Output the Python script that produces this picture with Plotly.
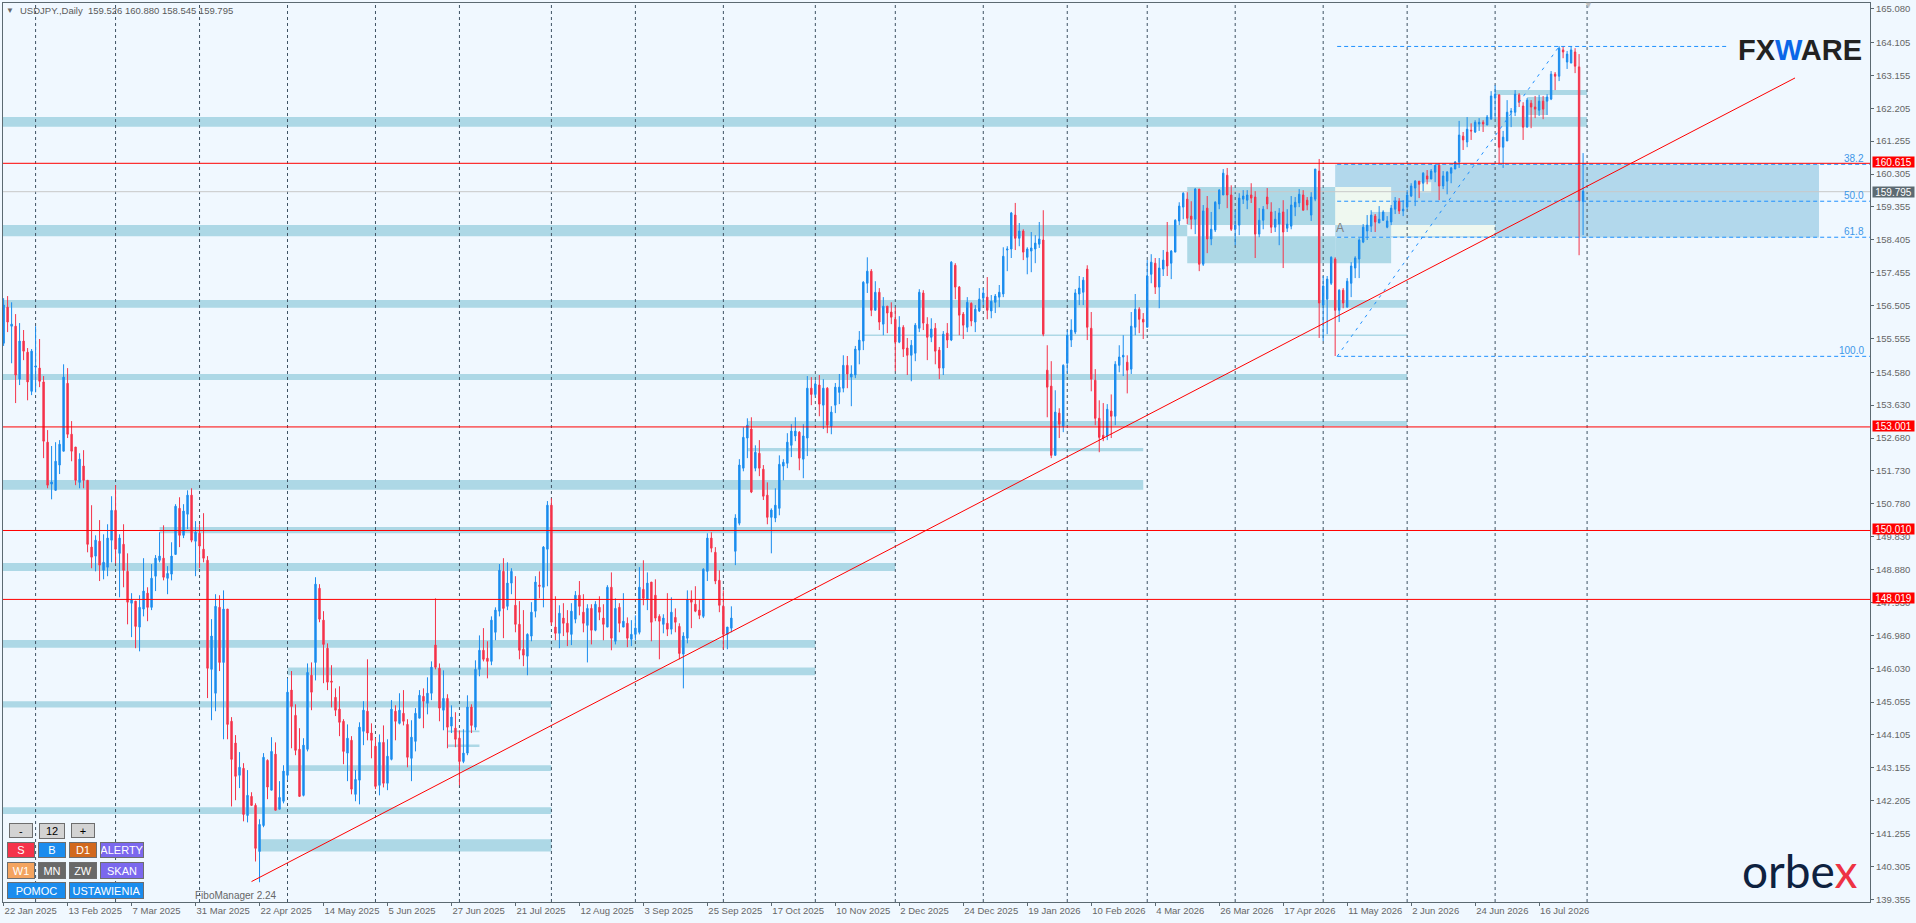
import plotly.graph_objects as go

# USDJPY daily candles, oldest first
highs = [
    156.72, 156.78, 156.60, 156.26, 156.00, 155.80, 155.28, 155.25, 155.91, 155.54,
    154.47, 152.91, 152.45, 152.56, 152.62, 154.81, 154.70, 153.17, 152.42, 152.24,
    152.33, 151.46, 150.74, 149.87, 150.31, 149.90, 150.19, 151.00, 151.32, 149.90,
    150.19, 149.35, 148.20, 147.97, 148.14, 149.21, 148.37, 149.04, 149.30, 149.96,
    150.16, 148.98, 149.67, 150.77, 150.97, 150.77, 151.17, 151.23, 150.28, 150.19,
    150.51, 149.27, 147.45, 148.17, 148.14, 148.28, 147.74, 144.62, 144.10, 143.61,
    143.29, 143.09, 142.45, 142.13, 141.67, 143.58, 143.40, 144.04, 143.89, 142.77,
    143.23, 145.74, 145.95, 144.99, 144.30, 144.01, 146.17, 146.20, 148.66, 148.46,
    147.68, 146.75, 146.12, 145.45, 145.51, 144.56, 144.41, 144.07, 143.09, 144.47,
    145.08, 146.29, 144.44, 144.01, 144.12, 144.38, 143.98, 145.11, 144.96, 145.31,
    145.40, 144.56, 144.53, 144.88, 145.40, 145.45, 145.77, 146.23, 148.05, 146.17,
    145.97, 145.28, 144.96, 144.76, 144.24, 144.27, 145.25, 144.99, 146.26, 146.98,
    147.19, 146.81, 147.53, 147.79, 149.04, 149.21, 149.09, 148.92, 148.69, 147.97,
    147.71, 147.04, 147.94, 148.69, 148.83, 149.56, 150.86, 150.94, 148.11, 147.85,
    147.91, 147.71, 147.91, 148.26, 148.55, 148.17, 147.88, 147.88, 147.97, 148.11,
    147.88, 148.43, 148.80, 148.05, 147.91, 148.20, 147.50, 147.42, 147.56, 148.95,
    149.15, 148.80, 148.52, 148.60, 147.59, 147.59, 148.20, 148.08, 147.76, 147.33,
    147.07, 148.28, 148.28, 148.40, 148.00, 148.92, 149.93, 149.96, 149.53, 148.86,
    148.28, 147.22, 147.82, 150.48, 152.07, 152.99, 153.25, 153.28, 152.47, 152.62,
    151.90, 151.40, 150.65, 151.23, 152.18, 152.07, 152.82, 153.08, 153.28, 152.88,
    153.08, 154.47, 154.44, 154.35, 154.50, 154.38, 154.15, 153.60, 154.27, 154.53,
    155.07, 155.05, 154.78, 155.34, 155.77, 157.21, 157.90, 157.56, 157.21, 157.01,
    156.75, 156.49, 156.60, 156.46, 156.20, 155.94, 155.57, 155.51, 156.00, 156.98,
    156.95, 156.17, 156.14, 156.00, 155.31, 155.77, 156.00, 157.79, 157.73, 157.07,
    156.32, 156.75, 156.60, 156.52, 157.01, 157.01, 157.33, 156.81, 156.84, 157.10,
    158.19, 158.22, 159.21, 159.47, 158.89, 158.71, 158.19, 158.63, 158.54, 158.92,
    159.26, 155.36, 154.90, 154.06, 153.54, 154.81, 155.80, 156.11, 156.98, 157.36,
    157.33, 157.67, 156.32, 154.67, 153.77, 153.69, 153.66, 153.94, 154.90, 155.36,
    155.65, 155.07, 156.32, 156.84, 156.46, 156.29, 157.82, 157.99, 157.88, 157.88,
    158.11, 158.92, 158.11, 159.00, 159.49, 159.78, 159.78, 159.52, 159.90, 159.87,
    159.41, 159.67, 159.21, 159.52, 159.87, 160.45, 160.48, 159.98, 159.26, 159.75,
    159.84, 159.84, 160.04, 159.81, 159.32, 159.38, 159.90, 159.49, 159.24, 159.32,
    159.55, 159.29, 159.67, 159.64, 159.87, 159.84, 159.64, 159.78, 160.45, 160.74,
    157.36, 157.36, 157.93, 157.90, 156.98, 157.01, 157.30, 157.76, 157.93, 158.45,
    158.86, 159.12, 159.26, 159.15, 159.38, 159.26, 159.09, 159.41, 159.64, 159.61,
    159.55, 159.84, 160.04, 160.13, 160.10, 160.36, 160.42, 160.45, 160.56, 160.62,
    160.39, 160.39, 160.51, 160.68, 161.84, 161.52, 161.95, 161.77, 161.86, 161.92,
    161.86, 162.01, 162.70, 162.87, 162.61, 161.55, 162.44, 162.21, 162.73, 162.64,
    162.38, 162.50, 162.44, 162.56, 162.59, 162.56, 162.61, 163.28, 163.25, 164.00,
    164.00, 163.86, 164.00, 163.94, 163.77, 160.91,
]
body_tops = [
    156.52, 156.46, 155.97, 155.91, 155.48, 155.48, 155.16, 155.19, 154.76, 154.70,
    154.30, 152.56, 151.41, 152.01, 152.50, 154.44, 154.26, 152.79, 152.42, 152.07,
    151.87, 151.46, 149.53, 149.73, 149.70, 149.09, 149.79, 150.59, 150.59, 149.79,
    149.61, 148.83, 148.00, 147.97, 147.79, 148.26, 148.20, 148.63, 149.21, 149.27,
    149.21, 148.77, 149.27, 150.71, 150.65, 150.57, 151.03, 151.03, 149.96, 149.93,
    149.47, 149.15, 146.96, 147.82, 147.79, 147.74, 147.74, 144.50, 143.87, 143.17,
    143.14, 142.36, 142.33, 142.07, 141.52, 143.46, 143.37, 143.63, 143.55, 142.30,
    143.06, 145.34, 145.40, 144.67, 143.69, 143.81, 145.91, 145.83, 148.46, 148.34,
    147.42, 146.61, 145.66, 145.19, 144.85, 144.50, 144.01, 143.95, 142.82, 144.33,
    144.82, 144.79, 144.16, 143.78, 143.89, 143.89, 143.49, 144.85, 144.79, 144.82,
    144.73, 144.41, 144.04, 144.73, 145.25, 145.22, 145.31, 146.06, 146.70, 146.03,
    145.16, 145.16, 144.62, 144.30, 144.01, 143.58, 144.91, 144.91, 146.00, 146.55,
    146.55, 146.32, 147.42, 147.71, 148.86, 148.83, 148.49, 148.83, 147.85, 147.30,
    146.58, 147.01, 147.65, 148.52, 148.43, 149.53, 150.74, 150.74, 147.22, 147.62,
    147.48, 147.33, 147.68, 148.14, 148.14, 147.65, 147.76, 147.76, 147.88, 147.79,
    147.48, 148.37, 148.37, 147.76, 147.79, 147.39, 147.33, 147.01, 147.19, 148.37,
    148.31, 148.49, 148.52, 148.14, 147.53, 147.48, 147.33, 147.65, 147.50, 147.24,
    146.96, 148.02, 148.02, 147.88, 147.71, 148.89, 149.79, 149.79, 149.38, 148.57,
    147.82, 147.22, 147.48, 150.37, 151.90, 152.70, 153.05, 152.94, 152.27, 152.24,
    151.78, 151.03, 150.60, 150.74, 151.92, 151.98, 152.56, 152.88, 152.88, 152.85,
    152.74, 154.12, 154.12, 154.24, 154.21, 154.12, 154.12, 153.43, 154.15, 154.15,
    154.78, 154.78, 154.53, 155.25, 155.51, 157.18, 157.50, 157.50, 156.89, 156.89,
    156.49, 156.49, 156.32, 156.11, 155.88, 155.88, 155.28, 155.36, 155.94, 156.89,
    156.87, 155.97, 155.83, 155.85, 155.22, 155.68, 155.71, 157.76, 157.67, 157.04,
    156.26, 156.60, 156.57, 156.40, 156.69, 156.87, 156.75, 156.63, 156.78, 156.89,
    157.93, 158.14, 159.18, 159.12, 158.66, 158.66, 158.14, 158.17, 158.31, 158.43,
    158.40, 154.64, 154.18, 153.43, 153.40, 154.78, 155.65, 155.80, 156.87, 157.01,
    157.24, 157.56, 155.85, 154.35, 153.25, 152.76, 153.51, 153.46, 154.81, 155.02,
    155.07, 154.87, 155.91, 156.40, 156.40, 156.11, 157.36, 157.76, 157.73, 157.59,
    157.82, 158.05, 158.08, 158.97, 159.38, 159.75, 159.58, 159.09, 159.87, 159.87,
    159.24, 159.32, 158.71, 159.49, 159.84, 160.33, 160.27, 159.70, 158.83, 159.61,
    159.67, 159.70, 159.70, 159.64, 158.97, 159.29, 159.64, 159.21, 159.00, 159.18,
    159.21, 158.86, 159.41, 159.49, 159.72, 159.70, 159.55, 159.64, 160.45, 160.39,
    157.07, 157.27, 157.90, 157.85, 156.95, 156.95, 157.21, 157.65, 157.88, 158.40,
    158.77, 158.83, 159.12, 159.09, 159.00, 159.21, 158.95, 159.32, 159.52, 159.52,
    159.29, 159.70, 159.96, 160.10, 160.10, 160.33, 160.25, 160.39, 160.56, 160.56,
    160.25, 160.36, 160.48, 160.65, 161.43, 161.40, 161.60, 161.57, 161.80, 161.80,
    161.80, 161.95, 162.56, 162.61, 162.59, 161.37, 162.09, 162.12, 162.61, 162.59,
    162.27, 162.44, 162.35, 162.24, 162.41, 162.41, 162.53, 163.19, 163.19, 163.94,
    163.89, 163.77, 163.89, 163.83, 163.40, 159.81,
]
body_bottoms = [
    155.42, 156.03, 155.91, 154.50, 154.38, 155.19, 154.30, 154.03, 154.73, 154.32,
    152.59, 151.32, 151.35, 151.17, 151.90, 152.30, 152.79, 152.30, 151.46, 151.40,
    151.46, 149.61, 149.24, 149.27, 149.01, 148.86, 148.95, 149.73, 149.47, 149.35,
    148.86, 147.94, 147.91, 147.24, 147.22, 147.74, 147.79, 147.79, 148.69, 149.15,
    148.66, 148.63, 148.75, 149.32, 149.87, 149.87, 150.48, 149.73, 149.70, 149.56,
    149.21, 146.03, 146.00, 145.31, 146.20, 146.20, 144.41, 143.40, 142.91, 142.94,
    141.81, 141.78, 142.07, 140.83, 140.74, 141.49, 142.60, 142.51, 141.93, 141.96,
    142.19, 142.94, 144.93, 143.66, 142.33, 142.36, 143.69, 145.34, 146.20, 147.45,
    146.72, 145.63, 145.63, 144.82, 144.47, 143.63, 143.58, 142.54, 142.39, 142.80,
    144.21, 144.16, 143.95, 142.62, 142.65, 142.71, 142.71, 143.40, 144.50, 144.44,
    144.50, 143.46, 143.43, 143.92, 144.59, 145.08, 145.02, 145.31, 146.06, 144.88,
    144.82, 144.33, 144.36, 143.98, 143.34, 143.34, 143.58, 144.38, 144.33, 146.00,
    146.29, 146.23, 146.23, 147.07, 147.68, 147.76, 147.82, 148.49, 147.30, 146.55,
    146.41, 146.38, 146.96, 147.68, 148.40, 148.37, 149.47, 147.36, 147.04, 147.04,
    147.33, 147.07, 147.01, 147.45, 147.82, 147.33, 147.27, 147.13, 147.13, 147.65,
    147.30, 147.22, 146.90, 146.81, 147.33, 147.22, 146.90, 146.87, 147.01, 147.07,
    148.05, 148.02, 147.36, 147.48, 147.39, 147.30, 147.16, 147.16, 147.36, 146.46,
    146.44, 146.90, 147.94, 147.68, 147.56, 147.53, 148.83, 149.50, 148.55, 147.85,
    147.01, 147.01, 147.19, 149.41, 150.22, 151.81, 152.68, 151.12, 151.81, 151.81,
    151.00, 150.39, 150.39, 150.37, 150.65, 151.87, 151.95, 152.47, 152.74, 152.10,
    152.07, 152.68, 153.94, 153.94, 153.66, 153.63, 153.05, 153.02, 153.63, 154.00,
    154.12, 154.53, 154.44, 154.50, 155.22, 155.48, 157.15, 156.37, 156.37, 156.03,
    155.97, 156.29, 156.17, 155.45, 155.45, 155.25, 155.07, 155.07, 155.13, 155.85,
    156.00, 155.59, 155.59, 155.19, 154.70, 154.70, 155.51, 155.51, 157.04, 156.23,
    155.94, 155.88, 156.06, 156.03, 156.35, 156.72, 156.37, 156.35, 156.60, 156.75,
    156.84, 158.11, 158.14, 158.45, 158.45, 158.05, 157.90, 158.08, 158.14, 158.28,
    155.68, 154.15, 152.18, 152.18, 153.08, 153.02, 154.84, 155.51, 155.74, 156.84,
    156.89, 155.88, 154.38, 153.25, 152.70, 152.68, 152.74, 153.31, 153.31, 154.78,
    155.02, 154.64, 154.67, 155.88, 156.11, 156.03, 155.88, 157.41, 157.04, 157.04,
    157.56, 157.65, 157.73, 158.05, 158.95, 159.35, 159.03, 159.00, 159.00, 157.70,
    157.70, 158.43, 158.43, 158.69, 159.44, 159.70, 159.70, 158.71, 158.71, 158.83,
    159.58, 159.55, 159.61, 158.57, 158.57, 158.97, 159.44, 158.77, 158.77, 158.86,
    158.63, 158.74, 158.80, 159.35, 159.47, 159.26, 159.41, 159.12, 159.58, 156.58,
    156.52, 156.69, 157.15, 156.37, 156.37, 156.58, 156.46, 157.15, 157.59, 157.85,
    158.34, 158.66, 158.80, 158.92, 158.89, 158.97, 158.77, 158.92, 159.29, 159.24,
    159.24, 159.35, 159.67, 159.90, 160.01, 160.04, 160.16, 160.16, 160.36, 159.96,
    159.96, 160.10, 160.33, 160.45, 160.65, 161.29, 161.23, 161.55, 161.52, 161.75,
    161.75, 161.72, 161.89, 162.50, 161.08, 161.08, 161.26, 162.09, 162.09, 162.38,
    161.66, 161.66, 162.24, 162.18, 162.15, 162.18, 162.41, 162.47, 163.13, 163.13,
    163.83, 163.54, 163.51, 163.42, 159.52, 159.52,
]
lows = [
    155.34, 155.74, 154.84, 153.69, 154.21, 154.93, 153.77, 153.92, 154.00, 154.15,
    152.10, 151.23, 150.91, 151.17, 151.64, 152.30, 152.68, 152.01, 151.32, 151.23,
    151.23, 149.38, 148.92, 148.83, 148.55, 148.60, 148.69, 149.09, 149.06, 148.08,
    148.37, 147.30, 146.93, 146.61, 146.52, 147.53, 147.39, 147.71, 148.26, 149.09,
    148.57, 148.17, 148.57, 149.32, 149.53, 149.79, 150.05, 149.67, 148.69, 148.92,
    149.09, 145.17, 144.53, 144.79, 145.95, 143.98, 143.98, 142.04, 142.22, 142.57,
    141.61, 141.58, 142.07, 140.45, 139.85, 141.44, 142.25, 142.51, 141.93, 141.96,
    142.13, 142.80, 143.72, 143.52, 142.33, 142.33, 143.63, 144.82, 145.68, 147.36,
    145.60, 145.40, 144.90, 144.65, 144.07, 143.26, 142.77, 142.39, 142.19, 142.10,
    143.81, 143.95, 143.43, 142.54, 142.36, 142.59, 142.51, 143.37, 143.95, 144.41,
    144.38, 143.17, 142.77, 143.63, 144.59, 144.30, 144.70, 145.11, 146.00, 144.50,
    144.24, 143.72, 144.16, 143.75, 142.65, 143.29, 143.52, 144.16, 144.24, 145.80,
    146.23, 145.74, 146.12, 146.84, 147.53, 146.90, 147.71, 148.17, 147.07, 146.29,
    146.09, 145.83, 146.81, 147.50, 148.05, 147.79, 148.40, 147.27, 146.84, 146.61,
    146.96, 146.67, 146.70, 147.33, 147.56, 147.07, 146.20, 146.72, 147.10, 147.42,
    146.84, 147.22, 146.55, 146.72, 147.07, 147.22, 146.64, 146.67, 146.84, 147.01,
    147.85, 147.71, 146.81, 147.39, 146.29, 147.04, 146.96, 147.01, 147.07, 146.29,
    145.45, 146.75, 147.19, 147.65, 147.45, 147.48, 148.55, 149.38, 148.46, 147.65,
    146.58, 146.58, 147.07, 149.01, 150.16, 151.72, 152.10, 151.09, 151.72, 151.58,
    150.89, 150.19, 149.35, 150.25, 150.45, 151.46, 151.81, 152.13, 152.59, 151.75,
    151.52, 152.16, 153.63, 153.89, 153.31, 152.94, 152.82, 152.79, 153.40, 153.66,
    154.00, 154.12, 153.60, 154.41, 154.81, 155.22, 156.87, 156.20, 156.37, 155.80,
    155.65, 155.71, 155.97, 154.61, 155.42, 155.02, 154.50, 154.32, 154.90, 155.74,
    155.80, 154.93, 155.45, 154.81, 154.38, 154.50, 155.28, 155.48, 156.69, 155.65,
    155.54, 155.74, 155.91, 155.74, 156.32, 156.52, 156.11, 156.14, 156.29, 156.46,
    156.75, 157.50, 157.88, 158.11, 158.22, 157.82, 157.41, 157.47, 157.73, 158.17,
    155.62, 153.28, 152.10, 152.18, 152.68, 152.85, 154.55, 155.31, 155.68, 156.52,
    156.52, 155.51, 154.03, 153.05, 152.27, 152.59, 152.62, 152.68, 153.05, 154.58,
    154.47, 153.97, 154.53, 155.65, 155.71, 155.54, 155.88, 157.15, 156.84, 156.43,
    157.36, 157.36, 157.27, 158.05, 158.83, 159.00, 158.86, 158.71, 158.57, 157.50,
    157.65, 158.02, 158.25, 158.63, 159.29, 159.70, 159.32, 158.66, 158.25, 158.54,
    159.44, 159.29, 159.47, 157.88, 158.48, 158.71, 159.29, 158.60, 158.63, 158.25,
    157.59, 158.63, 158.71, 159.09, 159.35, 159.26, 159.26, 158.95, 159.52, 155.57,
    155.48, 155.68, 157.10, 155.05, 156.03, 156.43, 156.46, 156.75, 157.30, 157.30,
    158.31, 158.40, 158.63, 158.63, 158.89, 158.95, 158.74, 158.83, 159.15, 159.15,
    159.09, 159.29, 159.64, 159.38, 159.61, 159.81, 160.01, 160.16, 160.07, 159.55,
    159.87, 159.72, 160.04, 160.45, 160.48, 161.00, 161.08, 161.29, 161.49, 161.55,
    161.52, 161.72, 161.89, 161.89, 160.62, 160.48, 161.26, 161.66, 161.98, 162.24,
    161.29, 161.66, 161.63, 161.92, 161.98, 161.89, 162.01, 162.44, 162.73, 162.99,
    163.65, 163.34, 163.51, 163.22, 157.96, 158.54,
]
# U = blue up candle, D = red down candle
directions = (
    "UDUDUDDUUD" "DDUUUUDDDU" "DDDUDUUUDU" "DDUDUUDUUU" "DUUUDUUDUD"
    "DDUUDUDDDU" "DUDDUUDUDU" "UUDDDUUDUD" "DDDDDDUDUU" "UDDDUDUUDU"
    "DDUUUDUUDD" "UDUDDUUDUU" "DDUUUDUUDD" "DUUUDUUDDU" "DDUUDDUDUD"
    "DUDUDUDUUU" "DUDDDUDUDD" "UUDDDUUDDD" "DUUUUUUDUD" "DDUUUUUUUD"
    "UUDUDUDUUU" "UDUUUUUDUD" "UDDDUDDUUU" "DDUDDUDUDD" "DUDUUUDUUU"
    "UUUDUDUUUU" "DDDUDUUUUU" "UDDDDDUDUU" "UDUUDDUUDU" "UDUUUUDDUD"
    "UDUUUUDDUU" "UUDDUUDDUU" "DUUUUDDUUD" "UUUDUDUUUU" "UUUDUUUUUD"
    "UUUUDUDUUD" "UUUUUDUDUU" "DUUUDUUUUD" "DUDDUDUUDU" "DUUDDU"
)

# axes
date_labels = [
    "22 Jan 2025", "13 Feb 2025", "7 Mar 2025", "31 Mar 2025", "22 Apr 2025",
    "14 May 2025", "5 Jun 2025", "27 Jun 2025", "21 Jul 2025", "12 Aug 2025",
    "3 Sep 2025", "25 Sep 2025", "17 Oct 2025", "10 Nov 2025", "2 Dec 2025",
    "24 Dec 2025", "19 Jan 2026", "10 Feb 2026", "4 Mar 2026", "26 Mar 2026",
    "17 Apr 2026", "11 May 2026", "2 Jun 2026", "24 Jun 2026", "16 Jul 2026",
]
date_ticks = [16 * n for n in range(len(date_labels))]
month_starts = [8, 28, 49, 71, 93, 114, 137, 158, 180, 203, 223, 245, 266, 286, 308, 330, 351, 373, 396]
price_ticks = [
    165.080, 164.105, 163.155, 162.205, 161.255, 160.305, 159.355, 158.405, 157.455, 156.505,
    155.555, 154.580, 153.630, 152.680, 151.730, 150.780, 149.830, 148.880, 147.930, 146.980,
    146.030, 145.055, 144.105, 143.155, 142.205, 141.255, 140.305, 139.355,
]

# support / resistance zones
band_start = [-1, -1, -1, -1, 186, -1, 39, -1, -1, 71, -1, 71, -1, 64, 373, 381, 215, 186, 111, 111]
band_end = [396, 296, 351, 351, 351, 285, 223, 223, 203, 203, 137, 137, 137, 137, 396, 386, 351, 285, 119, 119]
band_low = [161.67, 158.51, 156.44, 154.36, 153.03, 151.19, 149.93, 148.84, 146.62, 145.83, 144.90,
            143.06, 141.82, 140.74, 162.59, 162.01, 155.63, 152.30, 144.18, 143.76]
band_high = [161.95, 158.83, 156.67, 154.53, 153.17, 151.47, 150.11, 149.07, 146.85, 146.05, 145.08,
             143.23, 142.02, 141.09, 162.73, 162.53, 155.67, 152.39, 144.23, 143.83]

# the box around the fibo area where the rectangles overlap
box_start = [296, 296, 333, 333, 347, 354, 342]
box_end = [333, 333, 347, 347, 373, 357, 347]
box_low = [158.83, 157.73, 158.83, 157.73, 158.51, 159.78, 158.83]
box_high = [159.93, 158.51, 159.93, 158.47, 158.83, 160.07, 159.21]
box_kind = ["band", "band", "pale", "band", "pale", "pale", "fibo"]

fibo_levels = [160.586, 159.52, 158.48, 155.04]
fibo_names = ["38.2", "50.0", "61.8", "100.0"]
fibo_top = 163.99
red_levels = [160.615, 153.001, 150.010, 148.019]
last_price = 159.795
trend_x = [62, 448]
trend_y = [139.87, 163.08]

BG = "#f0f8ff"
BAND = "#add8e6"
FIBO = "#b2d8ec"
PALE = "#eff8f0"
AXIS = "#5c6a72"
GRID = "#3f5364"
BLUE = "#1a8cee"
RED = "#f5334a"
TEXT = "#666666"
FONT = "Liberation Sans"

W, H = 1916, 923
L, R, T, B = 3, 46, 3, 21
X_RANGE = [-0.15, 466.75]
Y_RANGE = [139.28, 165.245]


def px_x(px):
    return (px - L) / (W - L - R)


def px_y(py):
    return (H - B - py) / (H - T - B)


x = list(range(len(highs)))
opens = [b if d == "U" else t for t, b, d in zip(body_tops, body_bottoms, directions)]
closes = [t if d == "U" else b for t, b, d in zip(body_tops, body_bottoms, directions)]

fig = go.Figure()

kinds = {"band": BAND, "pale": PALE, "fibo": FIBO}
fig.add_shape(type="rect", x0=333, x1=454, y0=158.47, y1=160.58, fillcolor=FIBO, line_width=0, layer="below")
for x0, x1, y0, y1 in zip(band_start, band_end, band_low, band_high):
    fig.add_shape(type="rect", x0=x0, x1=x1, y0=y0, y1=y1, fillcolor=BAND, line_width=0, layer="below")
for x0, x1, y0, y1, kind in zip(box_start, box_end, box_low, box_high, box_kind):
    fig.add_shape(type="rect", x0=x0, x1=x1, y0=y0, y1=y1, fillcolor=kinds[kind], line_width=0, layer="below")

# month separators
for m in month_starts:
    fig.add_shape(type="line", x0=m, x1=m, y0=Y_RANGE[0], y1=Y_RANGE[1], layer="below",
                  line=dict(color=GRID, width=1, dash="3px,3px"))

fig.add_shape(type="line", x0=X_RANGE[0], x1=X_RANGE[1], y0=last_price, y1=last_price, layer="below",
              line=dict(color="#c8c8c8", width=1))

fig.add_trace(go.Candlestick(
    x=x, open=opens, high=highs, low=lows, close=closes,
    increasing=dict(line=dict(color=BLUE, width=1), fillcolor=BLUE),
    decreasing=dict(line=dict(color=RED, width=1), fillcolor=RED),
    whiskerwidth=0,
    hoverinfo="skip",
))

# fibo lines
for level in fibo_levels:
    fig.add_shape(type="line", x0=333.5, x1=X_RANGE[1], y0=level, y1=level,
                  line=dict(color="#1e90ff", width=1, dash="4px,3px"))
fig.add_shape(type="line", x0=333.5, x1=431, y0=fibo_top, y1=fibo_top,
              line=dict(color="#1e90ff", width=1, dash="4px,3px"))
fig.add_shape(type="line", x0=333.5, x1=389, y0=fibo_levels[3], y1=fibo_top,
              line=dict(color="#1e90ff", width=1, dash="3px,5px"))
for name, level in zip(fibo_names, fibo_levels):
    fig.add_annotation(x=1, xref="paper", xshift=-4, xanchor="right", y=level, yref="y", yshift=6, yanchor="middle",
                       text=name, showarrow=False, font=dict(family=FONT, size=10, color="#3d97e8"))

# horizontal levels and trend line
for level in red_levels:
    fig.add_shape(type="line", x0=X_RANGE[0], x1=X_RANGE[1], y0=level, y1=level, line=dict(color="#ff0000", width=1))
    fig.add_annotation(x=px_x(1872), xref="paper", xanchor="left", y=level, yref="y", yanchor="middle", yshift=1,
                       text=f"{level:.3f}", showarrow=False, width=41, height=10, bgcolor="#ff0000", borderpad=0,
                       font=dict(family=FONT, size=10, color="#ffffff"))
fig.add_annotation(x=px_x(1872), xref="paper", xanchor="left", y=last_price, yref="y", yanchor="middle",
                   text=f"{last_price:.3f}", showarrow=False, width=41, height=10, bgcolor="#5c6a72", borderpad=0,
                   font=dict(family=FONT, size=10, color="#ffffff"))
fig.add_shape(type="line", x0=trend_x[0], x1=trend_x[1], y0=trend_y[0], y1=trend_y[1], line=dict(color="#ff0000", width=1))

# header text
fig.add_annotation(x=px_x(18), xref="paper", xanchor="left", y=px_y(11), yref="paper", yanchor="middle",
                   text="USDJPY.,Daily  159.526 160.880 158.545 159.795", showarrow=False,
                   font=dict(family=FONT, size=9.5, color="#5a5a5a"))
fig.add_annotation(x=px_x(10), xref="paper", xanchor="center", y=px_y(11), yref="paper", yanchor="middle",
                   text="▼", showarrow=False, font=dict(family=FONT, size=8, color="#666666"))
fig.add_annotation(x=px_x(1588), xref="paper", xanchor="center", y=px_y(5), yref="paper", yanchor="middle",
                   text="▼", showarrow=False, font=dict(family=FONT, size=9, color="#c0c0c0"))
fig.add_annotation(x=px_x(1340), xref="paper", xanchor="center", y=px_y(228), yref="paper", yanchor="middle",
                   text="A", showarrow=False, font=dict(family=FONT, size=12, color="#808080"))

# logos
fig.add_annotation(x=px_x(1800), xref="paper", xanchor="center", y=px_y(50), yref="paper", yanchor="middle",
                   text='<b>FX<span style="color:#0a66e8">W</span>ARE</b>', showarrow=False,
                   font=dict(family=FONT, size=29, color="#222222"))
fig.add_annotation(x=px_x(1800), xref="paper", xanchor="center", y=px_y(870), yref="paper", yanchor="middle",
                   text='orbe<span style="color:#ee3344">x</span>', showarrow=False,
                   font=dict(family="Lato", size=46, color="#0e2240"))

# panel of buttons bottom left: x0, x1, y0, y1, label, fill, text colour
buttons = [
    (9, 33, 823, 838, "-", "#d3d3d3", "#000000"),
    (39, 65, 823, 839, "12", "#d3d3d3", "#000000"),
    (71, 95, 823, 838, "+", "#d3d3d3", "#000000"),
    (7, 35, 842, 858, "S", RED, "#ffffff"),
    (38, 66, 842, 858, "B", BLUE, "#ffffff"),
    (69, 97, 842, 858, "D1", "#d2691e", "#ffffff"),
    (100, 144, 842, 858, "ALERTY", "#7b68ee", "#ffffff"),
    (7, 35, 862, 879, "W1", "#f4a460", "#ffffff"),
    (38, 66, 862, 879, "MN", "#696969", "#ffffff"),
    (69, 97, 862, 879, "ZW", "#696969", "#ffffff"),
    (100, 144, 862, 879, "SKAN", "#7b68ee", "#ffffff"),
    (7, 66, 882, 899, "POMOC", BLUE, "#ffffff"),
    (69, 144, 882, 899, "USTAWIENIA", BLUE, "#ffffff"),
]
for x0, x1, y0, y1, label, fill, color in buttons:
    fig.add_annotation(x=px_x(x0), xref="paper", xanchor="left", y=px_y(y0), yref="paper", yanchor="top",
                       text=label, showarrow=False, width=x1 - x0 - 2, height=y1 - y0 - 2, bgcolor=fill,
                       bordercolor="#6e6e6e", borderwidth=1, borderpad=0,
                       font=dict(family=FONT, size=11, color=color))
fig.add_annotation(x=px_x(193), xref="paper", xanchor="left", y=px_y(895), yref="paper", yanchor="middle",
                   text="FiboManager 2.24", showarrow=False, font=dict(family=FONT, size=10, color="#666666"))

fig.update_layout(
    width=W, height=H, autosize=False,
    paper_bgcolor=BG, plot_bgcolor=BG,
    margin=dict(l=L, r=R, t=T, b=B),
    showlegend=False,
    boxgap=0.5,
    xaxis=dict(
        range=X_RANGE, rangeslider=dict(visible=False), showgrid=False, zeroline=False, automargin=False,
        tickmode="array", tickvals=date_ticks, ticktext=date_labels, tickangle=0,
        ticks="outside", ticklen=3, tickcolor=AXIS, ticklabelposition="outside right",
        tickfont=dict(family=FONT, size=9.5, color=TEXT),
        showline=True, linecolor=AXIS, linewidth=1, mirror=True,
    ),
    yaxis=dict(
        range=Y_RANGE, side="right", showgrid=False, zeroline=False, automargin=False,
        tickmode="array", tickvals=price_ticks, ticktext=[f"{p:.3f}" for p in price_ticks],
        ticks="outside", ticklen=3, tickcolor=AXIS,
        tickfont=dict(family=FONT, size=9.5, color=TEXT),
        showline=True, linecolor=AXIS, linewidth=1, mirror=True,
    ),
)

fig.write_html("out.html", config={"displayModeBar": False}, post_script="document.body.style.margin='0';")
